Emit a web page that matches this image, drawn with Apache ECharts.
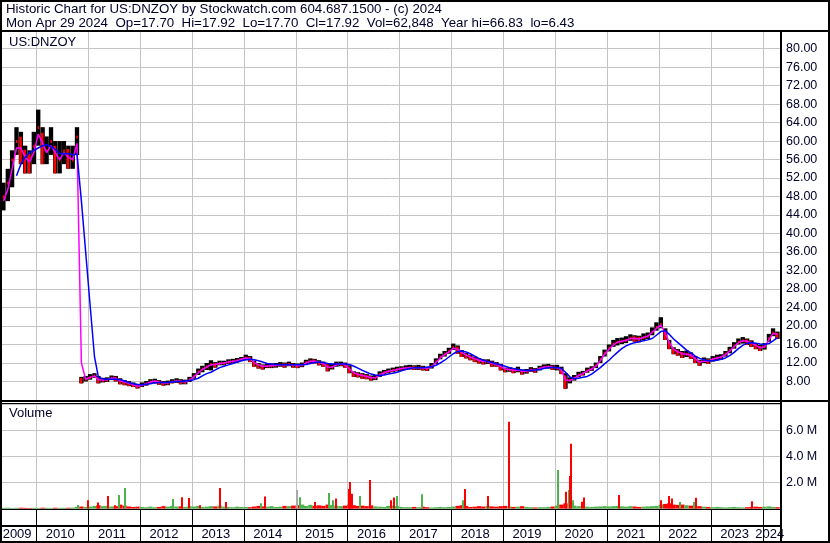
<!DOCTYPE html>
<html>
<head>
<meta charset="utf-8">
<script src="https://cdn.jsdelivr.net/npm/echarts@6/dist/echarts.min.js"></script>
<style>
html, body { margin: 0; padding: 0; background: #fff; }
#chart { width: 830px; height: 543px; }
</style>
</head>
<body>
<div id="chart"></div>
<script>
// monthly bars, May 2009 .. Apr 2024
const months = [
  '2009-05','2009-06','2009-07','2009-08','2009-09','2009-10','2009-11','2009-12',
  '2010-01','2010-02','2010-03','2010-04','2010-05','2010-06','2010-07','2010-08','2010-09','2010-10','2010-11','2010-12',
  '2011-01','2011-02','2011-03','2011-04','2011-05','2011-06','2011-07','2011-08','2011-09','2011-10','2011-11','2011-12',
  '2012-01','2012-02','2012-03','2012-04','2012-05','2012-06','2012-07','2012-08','2012-09','2012-10','2012-11','2012-12',
  '2013-01','2013-02','2013-03','2013-04','2013-05','2013-06','2013-07','2013-08','2013-09','2013-10','2013-11','2013-12',
  '2014-01','2014-02','2014-03','2014-04','2014-05','2014-06','2014-07','2014-08','2014-09','2014-10','2014-11','2014-12',
  '2015-01','2015-02','2015-03','2015-04','2015-05','2015-06','2015-07','2015-08','2015-09','2015-10','2015-11','2015-12',
  '2016-01','2016-02','2016-03','2016-04','2016-05','2016-06','2016-07','2016-08','2016-09','2016-10','2016-11','2016-12',
  '2017-01','2017-02','2017-03','2017-04','2017-05','2017-06','2017-07','2017-08','2017-09','2017-10','2017-11','2017-12',
  '2018-01','2018-02','2018-03','2018-04','2018-05','2018-06','2018-07','2018-08','2018-09','2018-10','2018-11','2018-12',
  '2019-01','2019-02','2019-03','2019-04','2019-05','2019-06','2019-07','2019-08','2019-09','2019-10','2019-11','2019-12',
  '2020-01','2020-02','2020-03','2020-04','2020-05','2020-06','2020-07','2020-08','2020-09','2020-10','2020-11','2020-12',
  '2021-01','2021-02','2021-03','2021-04','2021-05','2021-06','2021-07','2021-08','2021-09','2021-10','2021-11','2021-12',
  '2022-01','2022-02','2022-03','2022-04','2022-05','2022-06','2022-07','2022-08','2022-09','2022-10','2022-11','2022-12',
  '2023-01','2023-02','2023-03','2023-04','2023-05','2023-06','2023-07','2023-08','2023-09','2023-10','2023-11','2023-12',
  '2024-01','2024-02','2024-03','2024-04'
];
const close = [
  48, 51, 56, 60, 58, 56, 55, 59,
  63, 58, 58, 60, 56, 56, 58, 56, 56, 61, 8.3, 8.6,
  9.0, 9.3, 8.0, 8.3, 8.4, 8.8, 8.6, 7.9, 7.8, 7.5, 7.2, 6.9,
  7.3, 7.6, 8.0, 8.1, 7.8, 7.6, 7.7, 8.0, 8.2, 7.9, 7.9, 8.5,
  9.2, 10.2, 10.8, 11.3, 11.8, 11.6, 12.0, 12.0, 12.3, 12.4, 12.6, 12.9,
  13.2, 12.8, 11.8, 11.4, 11.2, 11.4, 11.4, 11.5, 11.7, 11.6, 11.8, 11.5,
  11.4, 11.6, 12.2, 12.5, 12.4, 12.0, 11.8, 10.8, 11.2, 11.8, 11.8, 11.6,
  10.4, 9.6, 9.4, 9.2, 9.0, 8.7, 8.8, 9.6, 10.0, 10.3, 10.5, 10.7,
  10.8, 11.0, 11.1, 11.0, 11.0, 10.9, 10.7, 11.4, 12.4, 13.4, 14.0, 14.6,
  15.5, 14.8, 14.0, 13.6, 13.2, 12.8, 12.5, 12.2, 12.3, 11.8, 11.7, 11.0,
  10.5, 10.6, 10.3, 10.6, 10.0, 10.2, 10.6, 10.4, 10.9, 11.2, 11.3, 11.0,
  11.0, 10.3, 7.6, 8.3, 8.8, 9.5, 9.8, 10.4, 10.8, 11.5, 12.8, 14.2,
  15.3, 16.2, 16.6, 16.8, 17.0, 17.5, 17.3, 17.2, 17.6, 17.9, 18.8, 19.8,
  20.5, 18.0, 15.8, 14.6, 14.3, 13.8, 14.0, 13.6, 12.6, 12.0, 12.6, 12.4,
  12.9, 13.2, 13.3, 14.0, 14.8, 15.8, 16.6, 16.9, 16.6, 16.2, 15.6, 15.2,
  15.6, 17.4, 18.6, 17.92
];
const high = [
  51, 54, 58, 63, 62, 59, 58, 62,
  66.8, 63, 61, 63, 60, 60, 60, 59, 59, 63, 9.0, 9.2,
  9.6, 9.8, 9.2, 8.8, 8.9, 9.3, 9.2, 8.7, 8.3, 8.1, 7.8, 7.5,
  7.8, 8.1, 8.5, 8.6, 8.3, 8.1, 8.2, 8.5, 8.7, 8.5, 8.4, 9.0,
  9.8, 10.8, 11.4, 12.0, 12.6, 12.2, 12.5, 12.5, 12.8, 12.9, 13.1, 13.3,
  13.8, 13.5, 12.5, 12.0, 11.7, 11.9, 11.9, 12.0, 12.2, 12.1, 12.3, 12.0,
  11.9, 12.1, 12.7, 13.0, 12.9, 12.6, 12.3, 12.0, 11.8, 12.3, 12.3, 12.1,
  11.5, 10.2, 10.0, 9.8, 9.6, 9.3, 9.4, 10.2, 10.5, 10.8, 11.0, 11.2,
  11.3, 11.5, 11.6, 11.5, 11.6, 11.4, 11.2, 12.0, 13.0, 14.0, 14.6, 15.3,
  16.2, 15.8, 14.8, 14.2, 13.8, 13.4, 13.0, 12.8, 12.8, 12.5, 12.2, 11.8,
  11.0, 11.1, 10.9, 11.2, 10.6, 10.7, 11.1, 10.9, 11.4, 11.7, 11.8, 11.6,
  11.6, 11.2, 9.8, 8.9, 9.4, 10.1, 10.3, 11.0, 11.3, 12.1, 13.5, 14.9,
  16.0, 17.0, 17.4, 17.5, 17.8, 18.2, 18.0, 17.9, 18.4, 18.6, 19.7, 20.8,
  21.9, 19.5, 17.0, 15.4, 15.0, 14.6, 14.7, 14.3, 13.5, 12.7, 13.2, 13.0,
  13.5, 13.8, 13.9, 14.6, 15.5, 16.5, 17.3, 17.6, 17.3, 16.9, 16.3, 15.9,
  16.3, 18.3, 19.5, 18.8
];
const low = [
  45, 47, 50, 57, 55, 53, 53, 55,
  59, 55, 55, 57, 53, 53, 55, 54, 54, 57, 7.6, 8.0,
  8.4, 8.8, 7.6, 7.8, 7.9, 8.3, 8.0, 7.4, 7.2, 7.0, 6.8, 6.5,
  6.8, 7.1, 7.5, 7.6, 7.3, 7.1, 7.2, 7.6, 7.7, 7.4, 7.4, 7.9,
  8.6, 9.4, 10.0, 10.5, 10.4, 11.0, 11.5, 11.5, 11.8, 11.9, 12.1, 12.4,
  12.6, 12.2, 11.2, 10.8, 10.6, 10.9, 10.9, 11.0, 11.2, 11.0, 11.3, 11.0,
  10.9, 11.1, 11.6, 12.0, 11.9, 11.5, 11.2, 10.2, 10.6, 11.2, 11.3, 11.0,
  9.8, 9.0, 8.9, 8.6, 8.5, 8.2, 8.3, 9.0, 9.5, 9.8, 10.0, 10.2,
  10.3, 10.5, 10.6, 10.5, 10.5, 10.4, 10.3, 10.8, 11.8, 12.8, 13.4, 14.0,
  14.8, 14.0, 13.3, 13.0, 12.6, 12.2, 11.9, 11.7, 11.8, 11.2, 11.2, 10.4,
  10.0, 10.1, 9.8, 10.0, 9.5, 9.7, 10.1, 9.9, 10.4, 10.7, 10.8, 10.5,
  10.4, 9.6, 6.43, 7.6, 8.2, 8.9, 9.3, 9.9, 10.3, 10.9, 12.0, 13.4,
  14.5, 15.5, 15.8, 16.1, 16.3, 16.8, 16.6, 16.5, 16.9, 17.2, 18.0, 19.0,
  19.5, 17.0, 15.0, 13.9, 13.6, 13.1, 13.3, 12.9, 12.0, 11.4, 12.0, 11.8,
  12.3, 12.6, 12.7, 13.4, 14.1, 15.1, 16.0, 16.2, 15.9, 15.5, 15.0, 14.6,
  14.9, 16.6, 17.8, 17.2
];
// short average (magenta) and long average (blue)
const maShort = [
  47, 49.5, 54, 58.5, 58.5, 56.5, 55.5, 57.5,
  61.5, 59.5, 57.5, 59, 57.5, 56, 57.5, 56.5, 56, 59.5, 12, 8.5,
  8.9, 9.2, 8.4, 8.3, 8.4, 8.7, 8.7, 8.1, 7.9, 7.6, 7.3, 7.0,
  7.2, 7.5, 7.9, 8.1, 7.9, 7.7, 7.7, 7.9, 8.1, 8.0, 7.9, 8.3,
  9.0, 9.9, 10.6, 11.1, 11.6, 11.7, 11.9, 12.0, 12.2, 12.4, 12.5, 12.8,
  13.1, 12.9, 12.1, 11.6, 11.3, 11.3, 11.4, 11.5, 11.6, 11.6, 11.7, 11.6,
  11.4, 11.5, 12.0, 12.4, 12.4, 12.1, 11.9, 11.1, 11.1, 11.6, 11.8, 11.6,
  10.7, 9.9, 9.5, 9.3, 9.1, 8.8, 8.8, 9.4, 9.9, 10.2, 10.4, 10.6,
  10.8, 10.9, 11.0, 11.0, 11.0, 10.9, 10.8, 11.2, 12.1, 13.1, 13.8, 14.4,
  15.2, 15.0, 14.3, 13.7, 13.3, 12.9, 12.6, 12.3, 12.3, 11.9, 11.7, 11.2,
  10.7, 10.6, 10.4, 10.5, 10.2, 10.2, 10.5, 10.4, 10.8, 11.1, 11.2, 11.1,
  11.0, 10.5, 8.3, 8.2, 8.7, 9.3, 9.7, 10.3, 10.7, 11.3, 12.5, 13.9,
  15.0, 15.9, 16.5, 16.7, 16.9, 17.3, 17.3, 17.2, 17.5, 17.8, 18.6, 19.5,
  20.2, 18.6, 16.4, 15.0, 14.4, 14.0, 13.9, 13.7, 12.9, 12.2, 12.4, 12.4,
  12.8, 13.1, 13.3, 13.8, 14.6, 15.5, 16.4, 16.8, 16.7, 16.3, 15.8, 15.3,
  15.5, 17.0, 18.4, 18.2
];
const maLong = [
  null, null, null, 52.5, 55, 56.5, 57.5, 58,
  58.5, 59, 59.2, 58.8, 58.2, 57.3, 57.2, 57.3, 57.0, 57.2, 47, 36,
  24.6, 13.4, 8.9, 8.6, 8.5, 8.5, 8.5, 8.4, 8.1, 7.8, 7.5, 7.35,
  7.3, 7.4, 7.5, 7.7, 7.8, 7.8, 7.8, 7.9, 8.0, 8.0, 8.1, 8.2,
  8.4, 8.7, 9.2, 9.7, 10.0, 10.5, 11.0, 11.3, 11.6, 11.9, 12.2, 12.5,
  12.7, 12.8, 12.7, 12.5, 12.2, 11.9, 11.8, 11.7, 11.6, 11.6, 11.6, 11.6,
  11.6, 11.6, 11.7, 11.9, 12.1, 12.2, 12.1, 11.9, 11.8, 11.8, 11.8, 11.8,
  11.7, 11.3, 10.9, 10.4, 10.0, 9.6, 9.4, 9.3, 9.4, 9.6, 9.8, 10.0,
  10.3, 10.6, 10.8, 11.0, 11.0, 11.0, 11.1, 11.2, 11.5, 12.0, 12.6, 13.3,
  14.0, 14.5, 14.6, 14.4, 14.0, 13.5, 13.0, 12.6, 12.3, 12.1, 11.8, 11.6,
  11.3, 11.0, 10.8, 10.6, 10.5, 10.4, 10.4, 10.5, 10.6, 10.8, 11.0, 11.1,
  11.0, 10.8, 10.0, 9.0, 8.6, 8.7, 8.9, 9.1, 9.6, 10.3, 11.0, 11.8,
  12.6, 13.5, 14.3, 15.1, 15.7, 16.1, 16.4, 16.6, 16.8, 17.0, 17.3, 18.0,
  18.8, 19.0, 18.2, 17.2, 16.4, 15.6, 14.8, 14.2, 13.5, 13.0, 12.7, 12.5,
  12.5, 12.6, 12.8, 13.1, 13.6, 14.3, 15.1, 15.8, 16.3, 16.4, 16.3, 16.1,
  16.0, 16.2, 16.8, 17.5
];
// typical volume per month, millions
const volBase = [
  0.05, 0.06, 0.04, 0.05, 0.06, 0.05, 0.04, 0.05,
  0.05, 0.06, 0.05, 0.04, 0.06, 0.05, 0.05, 0.06, 0.07, 0.12, 0.15, 0.12,
  0.15, 0.2, 0.25, 0.18, 0.2, 0.15, 0.18, 0.3, 0.22, 0.15, 0.12, 0.14,
  0.12, 0.1, 0.14, 0.1, 0.12, 0.18, 0.14, 0.2, 0.15, 0.16, 0.12, 0.18,
  0.15, 0.2, 0.12, 0.14, 0.18, 0.16, 0.22, 0.14, 0.12, 0.1, 0.14, 0.12,
  0.12, 0.1, 0.15, 0.2, 0.16, 0.14, 0.18, 0.12, 0.14, 0.2, 0.18, 0.22,
  0.25, 0.3, 0.2, 0.28, 0.2, 0.24, 0.2, 0.3, 0.26, 0.2, 0.18, 0.22,
  0.3, 0.25, 0.2, 0.22, 0.18, 0.24, 0.16, 0.14, 0.12, 0.2, 0.22, 0.18,
  0.12, 0.1, 0.1, 0.12, 0.1, 0.14, 0.1, 0.08, 0.1, 0.12, 0.1, 0.12,
  0.15, 0.2, 0.25, 0.2, 0.12, 0.14, 0.18, 0.15, 0.2, 0.16, 0.14, 0.18,
  0.2, 0.15, 0.12, 0.14, 0.18, 0.12, 0.1, 0.08, 0.1, 0.1, 0.12, 0.15,
  0.22, 0.3, 0.4, 0.3, 0.22, 0.18, 0.2, 0.14, 0.12, 0.14, 0.16, 0.18,
  0.16, 0.18, 0.2, 0.16, 0.14, 0.18, 0.15, 0.12, 0.14, 0.16, 0.18, 0.2,
  0.3, 0.35, 0.4, 0.3, 0.28, 0.3, 0.25, 0.22, 0.2, 0.18, 0.14, 0.12,
  0.1, 0.12, 0.1, 0.08, 0.1, 0.12, 0.1, 0.08, 0.1, 0.12, 0.14, 0.12,
  0.14, 0.16, 0.12, 0.1
];
// single heavy days, millions
const spikeDates = [
  '2010-10-19','2011-01-03','2011-03-13','2011-05-23','2011-07-08','2011-08-05','2011-09-19','2012-08-19','2012-10-26','2012-12-13',
  '2013-02-27','2013-07-21','2013-09-01','2014-05-02','2014-05-27','2015-01-13','2015-02-04','2015-05-15','2015-08-27','2015-09-22',
  '2015-10-15','2016-01-12','2016-01-20','2016-01-31','2016-03-28','2016-06-10','2016-11-05','2016-11-24','2016-12-12','2017-06-10',
  '2018-03-25','2018-04-05','2018-09-15','2019-02-14','2020-01-23','2020-03-19','2020-04-07','2020-04-18','2020-04-25','2020-05-08',
  '2020-07-10','2020-07-21','2021-03-27','2022-01-19','2022-03-16','2022-04-04','2022-05-30','2022-09-07','2022-09-22','2023-10-22'
];
const spikeVol = [
  0.26, 0.64, 0.46, 0.95, 0.25, 1.03, 1.56, 0.72, 0.87, 0.8,
  0.25, 1.56, 0.49, 0.4, 0.92, 1.41, 0.87, 0.49, 1.18, 0.64,
  0.77, 1.49, 2.03, 1.13, 0.95, 2.18, 0.64, 0.85, 0.95, 1.1,
  0.64, 1.49, 0.95, 6.64, 2.95, 1.28, 1.41, 2.49, 4.95, 0.64,
  0.51, 0.85, 1.03, 0.64, 0.95, 0.77, 0.5, 0.5, 0.82, 0.56
];
const spikeSide = [
  'g','r','r','r','r','g','g','g','r','r',
  'r','r','r','g','r','n','g','r','g','g',
  'r','r','r','r','g','r','r','r','g','g',
  'g','r','r','r','g','r','g','r','r','g',
  'r','r','r','r','r','r','g','g','r','r'
];
const yearTicks = [2010, 2011, 2012, 2013, 2014, 2015, 2016, 2017, 2018, 2019, 2020, 2021, 2022, 2023, 2024];
const yearLabels = ['2009', '2010', '2011', '2012', '2013', '2014', '2015', '2016', '2017', '2018', '2019', '2020', '2021', '2022', '2023', '2024'];

const T0 = Date.UTC(2009, 4, 5);
const T1 = Date.UTC(2024, 4, 10);
const MONTH = 30.44 * 86400000;
const FONT = '"Liberation Sans", Arial, sans-serif';
const INK = '#00002a';
const RED = '#ff0000', GREEN = '#4cb34c', GREY = '#a8a8a8';

function ts(s) {
  const p = s.split('-').map(Number);
  return Date.UTC(p[0], p[1] - 1, p[2] || 15);
}

const barData = months.map((m, i) => [ts(m), low[i], high[i], close[i], i === 0 ? 1 : close[i] - close[i - 1]]);
const volData = months.map((m, i) => [ts(m), volBase[i] * 1e6, i === 0 ? 1 : close[i] - close[i - 1]]);
const spikeData = spikeDates.map((d, i) => [ts(d), spikeVol[i] * 1e6]);
const tickData = yearTicks.map(y => [Date.UTC(y, 0, 1), 0]);
const spanData = yearLabels.map(y => [
  Math.max(T0, Date.UTC(+y, 0, 1)),
  Math.min(T1, Date.UTC(+y + 1, 0, 1)),
  1
]);

function yearLines(xi, yi, color) {
  return {
    type: 'custom', xAxisIndex: xi, yAxisIndex: yi, silent: true, z: 1,
    data: tickData,
    encode: { x: 0, y: 1 },
    renderItem(params, api) {
      const p = api.coord([api.value(0), 0]);
      const cs = params.coordSys;
      const x = Math.round(p[0]) + 0.5;
      return { type: 'line', shape: { x1: x, y1: cs.y, x2: x, y2: cs.y + cs.height }, style: { stroke: color, lineWidth: 1 } };
    }
  };
}

const chart = echarts.init(document.getElementById('chart'));
chart.setOption({
  animation: false,
  backgroundColor: '#fff',
  grid: [
    { left: 2, right: 49, top: 31, height: 369 },
    { left: 2, right: 49, top: 404, height: 104.5 },
    { left: 2, right: 49, top: 509, height: 33 }
  ],
  xAxis: [0, 1, 2].map(i => ({
    type: 'time', gridIndex: i, min: T0, max: T1, show: false
  })),
  yAxis: [
    {
      type: 'value', gridIndex: 0, position: 'right', min: 4, max: 83.8, interval: 4,
      axisLine: { show: false }, axisTick: { show: false },
      axisLabel: {
        margin: 5, color: INK, fontSize: 12.5, fontFamily: FONT,
        formatter: v => (v >= 8 && v <= 80) ? v.toFixed(2) : ''
      },
      splitLine: { show: true, lineStyle: { color: '#c4c4c4', width: 1 } }
    },
    {
      type: 'value', gridIndex: 1, position: 'right', min: 0, max: 8e6, interval: 2e6,
      axisLine: { show: false }, axisTick: { show: false },
      axisLabel: {
        margin: 5, color: INK, fontSize: 12.5, fontFamily: FONT,
        formatter: v => (v > 0 && v < 8e6) ? (v / 1e6).toFixed(1) + ' M' : ''
      },
      splitLine: { show: true, lineStyle: { color: '#c4c4c4', width: 1 } }
    },
    { type: 'value', gridIndex: 2, min: 0, max: 2, show: false }
  ],
  series: [
    yearLines(0, 0, '#c4c4c4'),
    yearLines(1, 1, '#c4c4c4'),
    yearLines(2, 2, '#000'),
    {
      // high-low range of each month, black body with red down-side ticks
      type: 'custom', xAxisIndex: 0, yAxisIndex: 0, silent: true, z: 3,
      data: barData,
      encode: { x: 0, y: [1, 2] },
      renderItem(params, api) {
        const t = api.value(0);
        const lo = api.coord([t, api.value(1)]);
        const hi = api.coord([t, api.value(2)]);
        const cl = api.coord([t, api.value(3)]);
        const w = api.size([MONTH, 0])[0];
        const down = api.value(4) < 0;
        const h = Math.max(1, lo[1] - hi[1]);
        const redTop = down ? hi[1] + h * 0.15 : cl[1] - 1;
        const redBot = down ? lo[1] : cl[1] + 2;
        return {
          type: 'group',
          children: [
            { type: 'rect', shape: { x: lo[0] - w / 2, y: hi[1], width: w, height: h }, style: { fill: '#000' } },
            { type: 'rect', shape: { x: lo[0] - w / 2 + (down ? 0.5 : 1.5), y: redTop, width: down ? w * 0.6 : 1.5, height: Math.max(1, redBot - redTop) }, style: { fill: RED } }
          ]
        };
      }
    },
    {
      type: 'line', xAxisIndex: 0, yAxisIndex: 0, silent: true, z: 4,
      data: months.map((m, i) => [ts(m), maShort[i]]),
      showSymbol: false, lineStyle: { color: '#ff00ff', width: 1.5 }
    },
    {
      type: 'line', xAxisIndex: 0, yAxisIndex: 0, silent: true, z: 5,
      data: months.map((m, i) => [ts(m), maLong[i]]),
      showSymbol: false, lineStyle: { color: '#0000ff', width: 1.5 }
    },
    {
      type: 'custom', xAxisIndex: 1, yAxisIndex: 1, silent: true, z: 3,
      data: volData,
      encode: { x: 0, y: 1 },
      renderItem(params, api) {
        const b = api.coord([api.value(0), 0]);
        const t = api.coord([api.value(0), api.value(1)]);
        const w = api.size([MONTH, 0])[0];
        return {
          type: 'rect',
          shape: { x: b[0] - w / 2, y: t[1], width: w, height: b[1] - t[1] },
          style: { fill: api.value(2) >= 0 ? GREEN : RED }
        };
      }
    },
    {
      type: 'custom', xAxisIndex: 1, yAxisIndex: 1, silent: true, z: 4,
      data: spikeData,
      encode: { x: 0, y: 1 },
      renderItem(params, api) {
        const b = api.coord([api.value(0), 0]);
        const t = api.coord([api.value(0), api.value(1)]);
        const side = spikeSide[params.dataIndex];
        return {
          type: 'rect',
          shape: { x: Math.round(b[0]) - 1, y: t[1], width: 2, height: b[1] - t[1] },
          style: { fill: side === 'g' ? GREEN : side === 'r' ? RED : GREY }
        };
      }
    },
    {
      type: 'custom', xAxisIndex: 2, yAxisIndex: 2, silent: true, z: 4,
      data: spanData,
      encode: { x: [0, 1], y: 2 },
      renderItem(params, api) {
        const a = api.coord([api.value(0), 0]);
        const b = api.coord([api.value(1), 0]);
        const cs = params.coordSys;
        return {
          type: 'text',
          style: {
            text: yearLabels[params.dataIndex],
            x: (a[0] + b[0]) / 2 - 2, y: cs.y + 25,
            align: 'center', verticalAlign: 'middle',
            font: '13px ' + FONT, fill: INK
          }
        };
      }
    }
  ],
  graphic: [
    { type: 'rect', z: 100, silent: true, shape: { x: 1, y: 1, width: 828, height: 541 }, style: { fill: 'none', stroke: '#000', lineWidth: 2 } },
    { type: 'line', z: 100, silent: true, shape: { x1: 0, y1: 31, x2: 830, y2: 31 }, style: { stroke: '#000', lineWidth: 2 } },
    { type: 'line', z: 100, silent: true, shape: { x1: 781, y1: 31, x2: 781, y2: 543 }, style: { stroke: '#000', lineWidth: 2 } },
    { type: 'line', z: 100, silent: true, shape: { x1: 0, y1: 401, x2: 830, y2: 401 }, style: { stroke: '#000', lineWidth: 2 } },
    { type: 'line', z: 100, silent: true, shape: { x1: 0, y1: 403.5, x2: 781, y2: 403.5 }, style: { stroke: '#000', lineWidth: 1 } },
    { type: 'line', z: 100, silent: true, shape: { x1: 0, y1: 509.5, x2: 781, y2: 509.5 }, style: { stroke: '#000', lineWidth: 1 } },
    { type: 'line', z: 100, silent: true, shape: { x1: 0, y1: 526, x2: 781, y2: 526 }, style: { stroke: '#000', lineWidth: 2 } },
    { type: 'text', z: 100, silent: true, style: { text: 'Historic Chart for US:DNZOY by Stockwatch.com 604.687.1500 - (c) 2024', x: 6, y: 9, textVerticalAlign: 'middle', font: '13.3px ' + FONT, fill: INK } },
    { type: 'text', z: 100, silent: true, style: { text: 'Mon Apr 29 2024  Op=17.70  Hi=17.92  Lo=17.70  Cl=17.92  Vol=62,848  Year hi=66.83  lo=6.43', x: 6, y: 23.5, textVerticalAlign: 'middle', font: '13.3px ' + FONT, fill: INK } },
    { type: 'text', z: 100, silent: true, style: { text: 'US:DNZOY', x: 9, y: 42, textVerticalAlign: 'middle', font: '13px ' + FONT, fill: INK } },
    { type: 'text', z: 100, silent: true, style: { text: 'Volume', x: 9, y: 413.5, textVerticalAlign: 'middle', font: '13px ' + FONT, fill: INK } }
  ]
});
</script>
</body>
</html>
